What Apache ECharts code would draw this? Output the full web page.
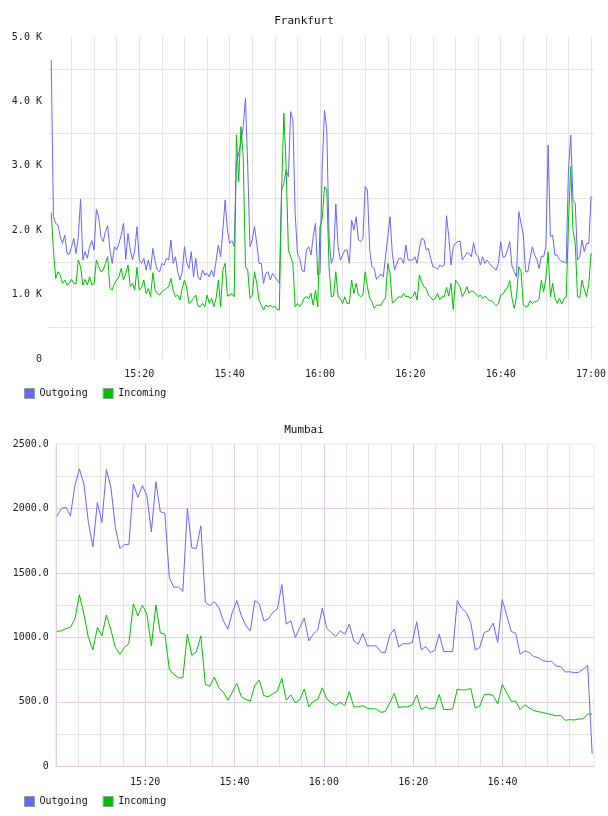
<!DOCTYPE html>
<html>
<head>
<meta charset="utf-8">
<script src="https://cdn.jsdelivr.net/npm/echarts@6/dist/echarts.min.js"></script>
<style>
html,body{margin:0;padding:0;background:#fff;}
#chart{width:608px;height:816px;}
</style>
</head>
<body>
<div id="chart"></div>
<script>
// ---- Data (minutes after 15:00) ----
const FRA_START_MIN = 0.5;
const FRA_STEP_MIN = 0.5;
const fraOutgoing = [
4645,2210,2106,2080,1900,1796,1925,1640,1630,1744,
1873,1640,1900,2480,1537,1666,1563,1744,1837,1692,
2324,2210,1900,1822,1977,2070,1692,1485,1744,1692,
1796,1925,2106,1547,1951,1692,1537,1692,2055,1537,
1485,1563,1381,1537,1381,1718,1511,1381,1355,1485,
1459,1563,1537,1847,1485,1588,1355,1226,1355,1744,
1500,1407,1666,1277,1563,1277,1226,1381,1303,1329,
1277,1381,1277,1526,1770,1588,2003,2469,2003,1796,
1837,1744,3039,3194,3350,3609,4049,2987,1744,1847,
2055,1796,1485,1485,1174,1329,1355,1226,1329,1277,
1226,1174,2624,2728,2935,2832,3842,3712,2262,1640,
1563,1381,1355,1692,1744,1614,1900,2106,1303,1329,
3013,3860,3557,1900,1485,1588,2407,1744,1537,1614,
1692,1692,1485,2158,2003,2210,1847,1822,1873,2676,
2624,1692,1433,1407,1236,1277,1319,1277,1588,1900,
2210,1640,1381,1485,1563,1563,1485,1770,1537,1537,
1537,1588,1485,1718,1873,1858,1692,1718,1563,1433,
1423,1392,1459,1433,1459,2226,1900,1459,1744,1796,
1822,1830,1537,1588,1651,1640,1588,1806,1630,1588,
1459,1588,1485,1537,1485,1443,1407,1381,1485,1822,
1578,1588,1692,1822,1443,1355,1277,2288,2106,1925,
1355,1355,1563,1744,1614,1547,1407,1599,1588,1744,
3320,1900,1925,1614,1614,1547,1511,1511,1485,2935,
3479,2469,2417,1537,1588,1847,1666,1796,1796,2531
];
const fraIncoming = [
2277,1692,1252,1355,1303,1174,1226,1148,1174,1236,
1174,1164,1537,1433,1148,1236,1148,1277,1148,1174,
1537,1433,1355,1381,1485,1588,1096,1070,1174,1226,
1277,1407,1226,1329,1459,1122,1174,1070,1423,1070,
1112,1226,1018,1096,967,1340,1070,1018,993,1044,
1070,1096,1122,1252,1070,967,993,915,1096,1226,
1100,863,889,941,993,822,811,863,811,993,
863,941,811,941,1226,811,1381,1485,977,993,
1018,967,3479,2754,3609,3142,1433,1381,941,993,
1355,1174,915,837,760,837,811,837,801,822,
770,760,2624,3816,2987,1692,1588,1485,811,863,
811,863,941,967,941,1018,837,1070,811,2055,
2180,2676,2624,1433,967,977,1355,967,941,863,
967,863,863,1226,1018,1174,993,967,993,1355,
1122,941,889,786,832,837,837,905,941,1485,
1329,874,889,941,967,956,1018,967,977,941,
967,1044,915,1303,1200,1122,1096,993,956,915,
941,1018,925,967,967,1112,977,1174,770,1226,
1174,1117,967,1029,1122,1018,1060,1044,1008,967,
993,941,977,941,905,905,863,827,863,993,
1008,1070,1112,1215,941,786,967,1433,1355,837,
811,822,905,863,889,889,941,1226,1044,1252,
1666,967,1174,941,863,941,853,941,956,2106,
2987,2003,1796,967,956,1226,1081,967,1174,1640
];

const MUM_START_MIN = 0.25;
const MUM_STEP_MIN = 1.0068;
const mumOutgoing = [
1938,2000,2008,1943,2177,2307,2190,1891,1703,2047,
1891,2302,2164,1852,1690,1721,1721,2190,2086,2177,
2099,1818,2208,1974,1964,1461,1388,1391,1357,2000,
1695,1690,1865,1271,1246,1277,1233,1129,1064,1194,
1285,1168,1090,1051,1285,1259,1129,1142,1194,1220,
1410,1103,1129,999,1077,1150,973,1025,1059,1225,
1069,1038,1007,1051,1025,1103,973,947,1030,934,
934,934,887,882,1017,1064,926,952,950,960,
1121,903,929,882,898,1025,890,890,890,1285,
1225,1194,1116,903,921,1038,1051,1111,960,1293,
1173,1046,1033,869,895,882,851,843,820,814,
814,778,773,731,734,726,729,752,783,97
];
const mumIncoming = [
1046,1051,1069,1077,1142,1330,1181,999,903,1077,
1012,1173,1059,921,869,921,952,1259,1168,1251,
1181,934,1251,1033,1025,752,713,687,687,1025,
861,887,1012,635,622,692,609,575,513,575,
643,539,518,505,627,669,549,539,562,583,
682,513,554,492,518,600,461,505,518,609,
523,492,471,497,471,580,461,461,471,450,
445,445,419,424,492,565,456,461,461,476,
552,440,461,445,453,557,440,440,445,596,
593,593,604,453,466,557,560,549,484,635,
570,505,505,440,476,453,432,424,417,409,
401,391,396,357,362,359,367,367,406,406
];

const TITLES = ['Frankfurt', 'Mumbai'];
const SERIES_NAMES = ['Outgoing', 'Incoming'];

// ---- Helpers ----
function toPairs(start, step, arr) { return arr.map((v, i) => [start + i * step, v]); }
function timeLabel(m, hideEnd) {
  const r = Math.round(m);
  if (Math.abs(m - r) > 1e-6) return '';
  if (r % 20 !== 0 || r === 0) return '';
  if (hideEnd && r === 120) return '';
  const h = 15 + Math.floor(r / 60);
  const mm = r % 60;
  return h + ':' + String(mm).padStart(2, '0');
}

const FONT = 'DejaVu Sans Mono';
const BLUE = '#6666ff';
const GREEN = '#00c000';
const GRAY = '#e4e4e4';
const PINK = '#e2cce4';
const PINK_LIGHT = '#efe3f1';

// vertical grid colours by tick index
const fraXColors = [];
for (let i = 0; i <= 25; i++) fraXColors.push(i === 0 || i === 25 ? 'transparent' : GRAY);
const mumXColors = [];
for (let i = 0; i <= 25; i++) {
  if (i === 0 || i >= 24) mumXColors.push('transparent');
  else mumXColors.push(i % 4 === 0 ? PINK : GRAY);
}
const mumYColors = [];
for (let i = 0; i <= 10; i++) {
  if (i === 0 || i === 10) mumYColors.push('transparent');
  else mumYColors.push(i % 2 === 0 ? PINK : GRAY);
}

const labelStyle = { fontFamily: FONT, fontSize: 10, color: '#222' };

const option = {
  animation: false,
  backgroundColor: '#fff',
  title: [
    { text: TITLES[0], left: 'center', top: 16, padding: 0,
      textStyle: { fontFamily: FONT, fontSize: 11, fontWeight: 'normal', color: '#111' } },
    { text: TITLES[1], left: 'center', top: 425, padding: 0,
      textStyle: { fontFamily: FONT, fontSize: 11, fontWeight: 'normal', color: '#111' } }
  ],
  legend: [
    { data: SERIES_NAMES, left: 24, top: 388, padding: 0, itemWidth: 10, itemHeight: 10, itemGap: 15,
      icon: 'rect', itemStyle: { borderColor: '#999', borderWidth: 1 },
      textStyle: { fontFamily: FONT, fontSize: 10, color: '#111', padding: [0, 0, 0, 0] } },
    { data: SERIES_NAMES, left: 24, top: 796, padding: 0, itemWidth: 10, itemHeight: 10, itemGap: 15,
      icon: 'rect', itemStyle: { borderColor: '#999', borderWidth: 1 },
      textStyle: { fontFamily: FONT, fontSize: 10, color: '#111', padding: [0, 0, 0, 0] } }
  ],
  grid: [
    { left: 48.95, right: 14, top: 37, bottom: 457, outerBoundsMode: 'none', containLabel: false },
    { left: 55.8, right: 14, top: 444, bottom: 49.7, outerBoundsMode: 'none', containLabel: false,
      show: true, borderColor: PINK_LIGHT, borderWidth: 1, backgroundColor: 'transparent' }
  ],
  xAxis: [
    { type: 'value', gridIndex: 0, min: 0, max: 120.65, interval: 5,
      axisLine: { show: false }, axisTick: { show: false },
      axisLabel: Object.assign({ margin: 10, formatter: v => timeLabel(v, false), showMinLabel: true, showMaxLabel: true, hideOverlap: false }, labelStyle),
      splitLine: { show: true, lineStyle: { color: fraXColors, width: 1 } } },
    { type: 'value', gridIndex: 1, min: 0, max: 120.47, interval: 5,
      axisLine: { show: true, lineStyle: { color: PINK, width: 1 } }, axisTick: { show: false },
      axisLabel: Object.assign({ margin: 11, formatter: v => timeLabel(v, true), hideOverlap: false }, labelStyle),
      splitLine: { show: true, lineStyle: { color: mumXColors, width: 1 } } }
  ],
  yAxis: [
    { type: 'value', gridIndex: 0, min: 0, max: 5000, interval: 500,
      axisLine: { show: false }, axisTick: { show: false },
      axisLabel: Object.assign({ margin: 7, formatter: v => (v % 1000 !== 0 ? '' : (v === 0 ? '0' : (v / 1000).toFixed(1) + ' K')) }, labelStyle),
      splitLine: { show: true, lineStyle: { color: ['transparent', GRAY], width: 1 } } },
    { type: 'value', gridIndex: 1, min: 0, max: 2500, interval: 250,
      axisLine: { show: true, lineStyle: { color: PINK, width: 1 } }, axisTick: { show: false },
      axisLabel: Object.assign({ margin: 7, formatter: v => (v % 500 !== 0 ? '' : (v === 0 ? '0' : v.toFixed(1))) }, labelStyle),
      splitLine: { show: true, lineStyle: { color: mumYColors, width: 1 } } }
  ],
  series: [
    { name: SERIES_NAMES[0], type: 'line', xAxisIndex: 0, yAxisIndex: 0, showSymbol: false, symbol: 'none',
      data: toPairs(FRA_START_MIN, FRA_STEP_MIN, fraOutgoing), color: BLUE, lineStyle: { width: 1, color: BLUE }, z: 3 },
    { name: SERIES_NAMES[1], type: 'line', xAxisIndex: 0, yAxisIndex: 0, showSymbol: false, symbol: 'none',
      data: toPairs(FRA_START_MIN, FRA_STEP_MIN, fraIncoming), color: GREEN, lineStyle: { width: 1, color: GREEN }, z: 4 },
    { name: SERIES_NAMES[0], type: 'line', xAxisIndex: 1, yAxisIndex: 1, showSymbol: false, symbol: 'none',
      data: toPairs(MUM_START_MIN, MUM_STEP_MIN, mumOutgoing), color: BLUE, lineStyle: { width: 1, color: BLUE }, z: 3 },
    { name: SERIES_NAMES[1], type: 'line', xAxisIndex: 1, yAxisIndex: 1, showSymbol: false, symbol: 'none',
      data: toPairs(MUM_START_MIN, MUM_STEP_MIN, mumIncoming), color: GREEN, lineStyle: { width: 1, color: GREEN }, z: 4 }
  ]
};

const chart = echarts.init(document.getElementById('chart'), null, { renderer: 'canvas' });
chart.setOption(option);
</script>
</body>
</html>
